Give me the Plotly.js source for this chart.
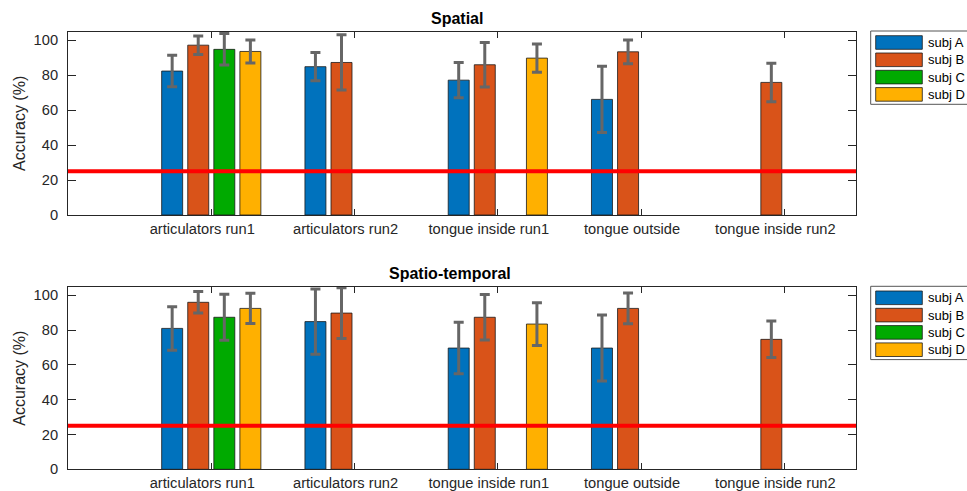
<!DOCTYPE html>
<html>
<head>
<meta charset="utf-8">
<script src="https://cdn.plot.ly/plotly-3.0.1.min.js"></script>
<style>html,body{margin:0;padding:0;background:#fff;}#chart{width:967px;height:491px;}</style>
</head>
<body>
<div id="chart"></div>
<script>
// ---- data ----
const categories = ['articulators run1', 'articulators run2', 'tongue inside run1', 'tongue outside', 'tongue inside run2'];
const subjects = ['subj A', 'subj B', 'subj C', 'subj D'];
const colors = ['#0072BD', '#D95319', '#00AA00', '#FFB000'];
const chanceLevel = 25;

// Spatial
const spatialA    = [82.3, 84.8, 77.1, 66.1, null];
const spatialAErr = [9.0, 8.1, 10.1, 19.0, null];
const spatialB    = [97.1, 87.2, 85.9, 93.3, 75.8];
const spatialBErr = [5.3, 15.8, 12.7, 6.8, 11.0];
const spatialC    = [94.7, null, null, null, null];
const spatialCErr = [9.0, null, null, null, null];
const spatialD    = [93.5, null, 89.7, null, null];
const spatialDErr = [6.6, null, 8.1, null, null];

// Spatio-temporal
const temporalA    = [81.0, 84.9, 69.7, 69.7, null];
const temporalAErr = [12.5, 18.7, 14.8, 19.0, null];
const temporalB    = [96.0, 89.8, 87.4, 92.5, 74.7];
const temporalBErr = [6.2, 14.6, 13.1, 8.8, 10.5];
const temporalC    = [87.4, null, null, null, null];
const temporalCErr = [13.2, null, null, null, null];
const temporalD    = [92.5, null, 83.5, null, null];
const temporalDErr = [8.7, null, 12.3, null, null];

const panelTitles = ['Spatial', 'Spatio-temporal'];
const yTicks = [0, 20, 40, 60, 80, 100];

// ---- build ----
const W = 967, H = 491;
const PX = p => p / W;
const PY = p => 1 - p / H;
const FONT = 'Liberation Sans, Arial, Helvetica, sans-serif';
const AX = '#262626';

const spatialVals = [spatialA, spatialB, spatialC, spatialD];
const spatialErrs = [spatialAErr, spatialBErr, spatialCErr, spatialDErr];
const temporalVals = [temporalA, temporalB, temporalC, temporalD];
const temporalErrs = [temporalAErr, temporalBErr, temporalCErr, temporalDErr];

const traces = [];
function addPanel(vals, errs, xa, ya) {
  subjects.forEach((s, i) => {
    traces.push({
      type: 'bar', name: s, x: categories, y: vals[i],
      xaxis: xa, yaxis: ya, showlegend: false,
      marker: {color: colors[i], line: {color: '#1a1a1a', width: 0.8}},
      error_y: {type: 'data', array: errs[i], visible: true, color: '#666666', thickness: 3, width: 5},
      hoverinfo: 'skip'
    });
  });
}
addPanel(spatialVals, spatialErrs, 'x', 'y');
addPanel(temporalVals, temporalErrs, 'x2', 'y2');

function xAxis(anchor) {
  return {
    domain: [PX(68), PX(856)], anchor: anchor, type: 'category',
    categoryorder: 'array', categoryarray: categories, range: [-1, 4.5],
    ticks: 'inside', ticklen: 6, tickcolor: AX, tickwidth: 1,
    showline: true, linecolor: AX, linewidth: 1, mirror: 'ticks',
    showgrid: false, zeroline: false,
    ticklabelshift: -9,
    tickfont: {family: FONT, size: 14.67, color: AX}
  };
}
function yAxis(anchor, top, bottom) {
  return {
    domain: [PY(bottom), PY(top)], anchor: anchor, range: [0, 104.8],
    tickmode: 'array', tickvals: yTicks, ticktext: yTicks.map(String),
    ticks: 'inside', ticklen: 8, tickcolor: AX, tickwidth: 1,
    showline: true, linecolor: AX, linewidth: 1, mirror: 'ticks',
    showgrid: false, zeroline: false,
    tickfont: {family: FONT, size: 14.67, color: AX},
    ticklabelstandoff: 6,
    title: {text: 'Accuracy (%)', font: {family: FONT, size: 16, color: AX}, standoff: 3}
  };
}

const shapes = [];
const annotations = [];
[['x', 'y'], ['x2', 'y2']].forEach(([xa, ya]) => {
  shapes.push({type: 'line', xref: xa + ' domain', yref: ya, x0: 0, x1: 1, y0: chanceLevel, y1: chanceLevel,
               line: {color: '#FF0000', width: 4}, layer: 'above'});
});

// titles
const titlePos = [[457, 18.5], [450, 273.7]];
panelTitles.forEach((t, k) => {
  annotations.push({text: '<b>' + t + '</b>', xref: 'paper', yref: 'paper', x: PX(titlePos[k][0]), y: PY(titlePos[k][1]),
                    xanchor: 'center', yanchor: 'middle', showarrow: false,
                    font: {family: FONT, size: 16, color: '#000'}});
});

// legends (one per panel)
const legendTop = [31, 286.3];
legendTop.forEach(top => {
  shapes.push({type: 'rect', xref: 'paper', yref: 'paper', x0: PX(870.7), x1: PX(980), y0: PY(top), y1: PY(top + 73.3),
               line: {color: '#555555', width: 1}, fillcolor: '#ffffff', layer: 'above'});
  subjects.forEach((s, i) => {
    const cy = top + 11.5 + i * 17.3;
    shapes.push({type: 'rect', xref: 'paper', yref: 'paper', x0: PX(875.7), x1: PX(922.3),
                 y0: PY(cy - 6.8), y1: PY(cy + 6.8),
                 line: {color: '#1a1a1a', width: 0.8}, fillcolor: colors[i], layer: 'above'});
    annotations.push({text: s, xref: 'paper', yref: 'paper', x: PX(926.2), y: PY(cy),
                      xanchor: 'left', yanchor: 'middle', showarrow: false,
                      font: {family: FONT, size: 13, color: '#000'}});
  });
});

const layout = {
  width: W, height: H,
  margin: {l: 0, r: 0, t: 0, b: 0},
  paper_bgcolor: '#ffffff', plot_bgcolor: '#ffffff',
  barmode: 'group', bargap: 0.272, bargroupgap: 0.195,
  showlegend: false,
  xaxis: xAxis('y'), yaxis: yAxis('x', 31.7, 215),
  xaxis2: xAxis('y2'), yaxis2: yAxis('x2', 287, 469.3),
  shapes: shapes, annotations: annotations,
  font: {family: FONT}
};

Plotly.newPlot('chart', traces, layout, {displayModeBar: false, staticPlot: true});
</script>
</body>
</html>
